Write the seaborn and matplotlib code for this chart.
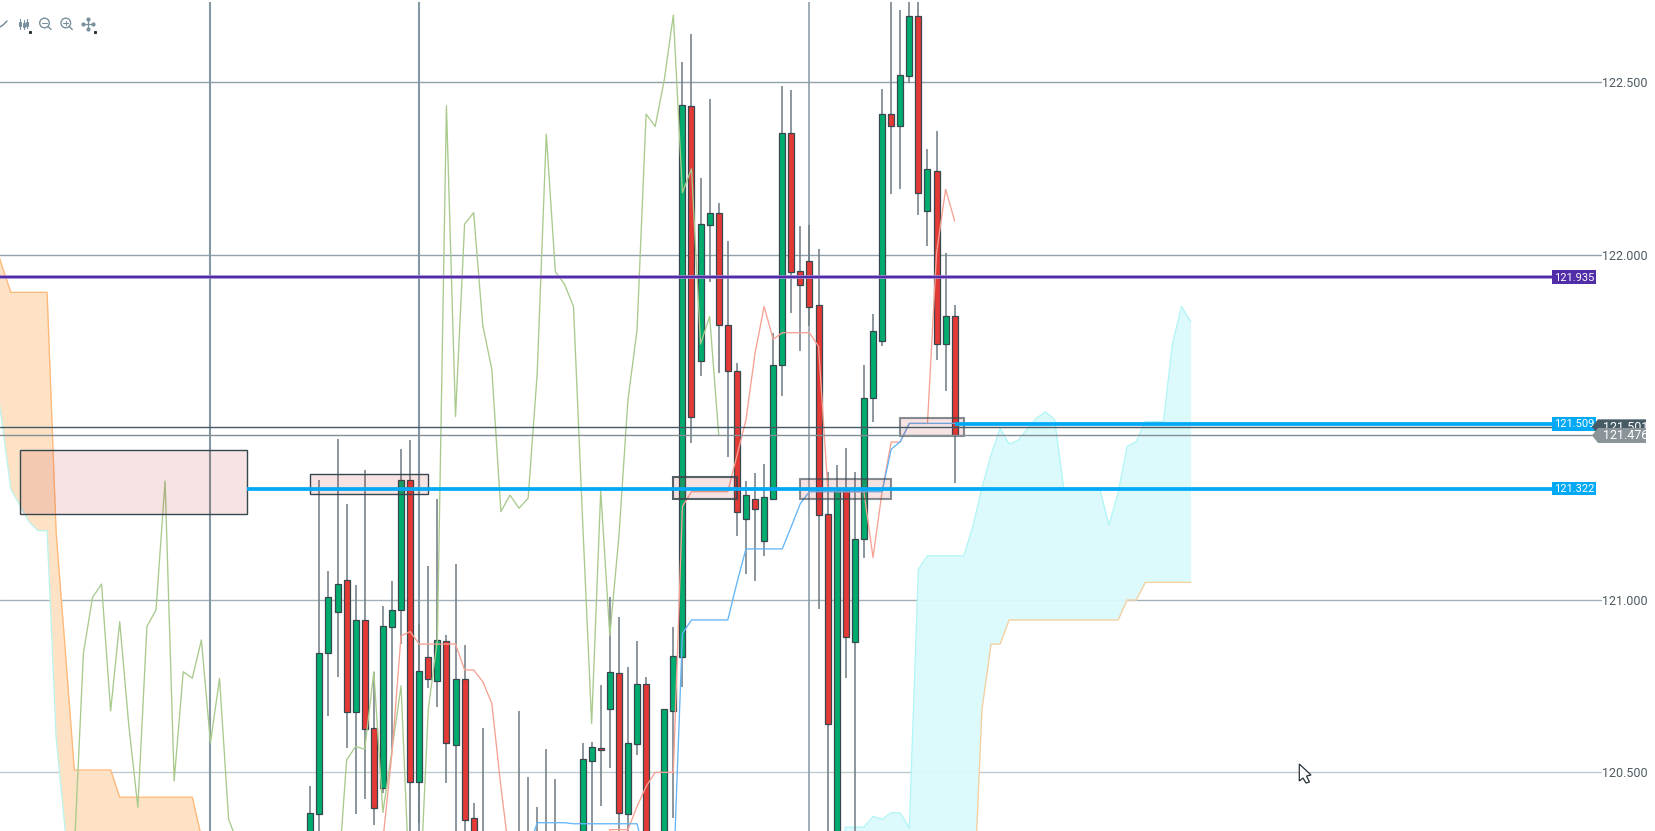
import numpy as np
import pandas as pd
import matplotlib
matplotlib.use("Agg")
import matplotlib.pyplot as plt
import seaborn as sns
from matplotlib.patches import Polygon, Circle, Rectangle
from matplotlib.transforms import blended_transform_factory

nan = float('nan')

# candles, one entry per bar (nan = bar is completely below the visible range)
opens = [120.187,120.378,120.846,120.965,121.056,120.673,120.940,120.627,120.453,120.921,
         120.970,121.346,120.470,120.835,120.765,120.879,120.579,120.770,120.366,120.30,
         nan,nan,nan,120.28,120.28,120.28,120.28,120.28,nan,nan,
         120.2,120.532,120.571,120.682,120.787,120.378,120.580,120.755,nan,120.2,
         120.676,120.835,122.432,121.693,122.087,122.121,121.797,121.662,121.234,121.291,
         121.169,121.293,121.680,122.352,121.952,121.983,121.854,121.249,120.2,121.318,
         120.876,121.175,121.584,121.751,122.408,122.372,122.519,122.693,122.126,122.244,
         121.741,121.821]
highs = [120.460,121.347,121.084,121.465,121.277,121.042,121.376,120.791,120.982,121.055,
         121.437,121.463,120.929,121.098,121.291,120.897,121.103,120.868,120.409,120.627,
         nan,nan,nan,120.677,120.485,120.398,120.566,120.479,nan,nan,
         120.585,120.588,120.752,121.007,120.951,120.804,120.880,120.777,nan,120.682,
         120.920,122.558,122.640,122.222,122.452,122.151,122.039,121.685,121.344,121.368,
         121.393,121.772,122.490,122.478,122.084,122.086,122.016,121.371,121.390,121.439,
         121.371,121.680,121.828,122.480,122.80,122.710,122.80,122.80,122.307,122.359,
         122.004,121.854]
lows = [120.15,120.2,120.663,120.775,120.571,120.378,120.421,120.346,120.440,120.564,
        120.871,120.2,120.351,120.743,120.688,120.467,120.2,120.2,120.15,120.15,
        nan,nan,nan,120.15,120.15,120.15,120.15,120.15,nan,nan,
        120.15,120.2,120.402,120.513,120.2,120.2,120.549,120.15,nan,120.15,
        120.366,120.748,121.453,121.647,121.922,121.658,121.415,121.185,121.074,121.055,
        121.127,121.289,121.591,121.830,121.722,121.794,120.973,120.2,120.15,120.774,
        120.2,121.122,121.516,121.736,122.176,122.192,122.497,122.115,122.026,121.695,
        121.606,121.337]
closes = [120.380,120.844,121.007,121.045,120.673,120.940,120.624,120.395,120.924,120.971,
          121.346,120.470,120.793,120.770,120.882,120.584,120.770,120.361,120.2,120.25,
          nan,nan,nan,120.22,120.22,120.22,120.22,120.22,nan,nan,
          120.537,120.574,120.563,120.790,120.380,120.584,120.755,120.2,nan,120.682,
          120.836,122.434,121.529,122.090,122.121,121.796,121.662,121.255,121.304,121.263,
          121.297,121.680,122.352,121.949,121.912,121.848,121.245,120.639,121.318,120.893,
          121.177,121.584,121.780,122.408,122.372,122.521,122.693,122.178,122.249,121.741,
          121.821,121.477]

# ichimoku lines
chikou = [120.274,120.844,121.006,121.045,120.677,120.936,120.636,120.398,120.922,120.970,
          121.344,120.474,120.791,120.772,120.883,120.585,120.771,120.363,120.294,
          120.1,120.1,120.1,120.1,120.1,120.1,120.1,120.1,120.1,120.1,120.164,
          120.535,120.574,120.566,120.791,120.383,120.564,120.750,120.123,120.103,120.682,
          120.883,122.432,121.531,122.089,122.122,121.796,121.668,121.255,121.303,121.265,
          121.294,121.656,122.350,121.951,121.915,121.850,121.231,120.641,121.316,120.895,
          121.183,121.579,121.782,122.408,122.372,122.507,122.695,122.180,122.249,121.741,
          121.821,121.477]
tenkan = [120.303,120.555,120.895,120.907,120.871,120.871,120.871,120.871,120.871,120.796,
          120.796,120.762,120.699,120.458,120.245,120.1,120.1,120.1,120.1,120.1,
          120.1,120.1,120.1,120.1,120.1,120.333,120.333,120.333,120.400,120.458,
          120.499,120.499,120.499,121.270,121.313,121.313,121.313,121.313,121.313,121.417,
          121.521,121.714,121.850,121.755,121.774,121.774,121.774,121.774,121.734,121.328,
          121.313,121.313,121.313,121.313,121.122,121.313,121.457,121.457,121.511,121.511,
          121.511,122.005,122.190,122.098]
kijun = [120.274,120.353,120.353,120.353,120.353,120.350,120.350,120.350,120.350,120.350,
         120.350,120.350,120.350,120.245,120.2,120.2,120.19,120.902,120.941,120.941,
         120.941,120.941,120.941,121.048,121.147,121.147,121.147,121.147,121.147,121.212,
         121.279,121.313,121.313,121.313,121.313,121.313,121.313,121.313,121.313,121.313,
         121.436,121.458,121.511,121.511,121.511,121.511,121.511,121.511]

# kumo, left part (bars -35 to -12) and right part (bars 58 to 97)
span_b_left = [122.057,121.970,121.891,121.891,121.891,121.891,121.891,121.193,120.854,120.506,
               120.506,120.506,120.506,120.506,120.427,120.427,120.427,120.427,120.427,120.427,
               120.427,120.427,120.427,120.312]
span_a_left = [121.695,121.521,121.320,121.274,121.226,121.200,121.200,120.599,120.329,120.2,
               120.2,120.2,120.2,120.2,120.2,120.2,120.2,120.2,120.2,120.2,
               120.2,120.2,120.2,120.2]
span_a_right = [120.25,120.340,120.340,120.340,120.371,120.363,120.382,120.382,120.337,121.088,
                121.127,121.127,121.127,121.127,121.127,121.212,121.324,121.419,121.497,121.451,
                121.462,121.495,121.526,121.544,121.523,121.323,121.323,121.323,121.323,121.318,
                121.216,121.309,121.444,121.458,121.516,121.516,121.516,121.743,121.850,121.806]
span_b_right = [120.071,120.071,120.071,120.071,120.071,120.071,120.071,120.071,120.071,120.071,
                120.071,120.071,120.071,120.071,120.071,120.071,120.680,120.871,120.871,120.941,
                120.941,120.941,120.941,120.941,120.941,120.941,120.941,120.941,120.941,120.941,
                120.941,120.941,120.999,120.999,121.050,121.050,121.050,121.050,121.050,121.050]

# zones: first bar, last bar, top price, bottom price
zone_start = [-32, 0, 40, 54, 65]
zone_end = [-7, 13, 47, 64, 72]
zone_top = [121.433, 121.363, 121.357, 121.349, 121.526]
zone_bottom = [121.248, 121.306, 121.291, 121.291, 121.475]

price_ticks = [120.5, 121.0, 122.0, 122.5]
price_tick_labels = ['120.500', '121.000', '122.000', '122.500']
session_bars = [-11, 12, 55]

df = pd.DataFrame({'bar': np.arange(72), 'open': opens, 'high': highs, 'low': lows, 'close': closes}).dropna()
up = df[df['close'] >= df['open']]
down = df[df['close'] < df['open']]

W, H = 1656, 831
PX = 9.076  # one bar in pixels
sns.set_theme(style='white')
plt.rcParams['font.family'] = ['Roboto', 'DejaVu Sans']

fig = plt.figure(figsize=(W / 100, H / 100), dpi=100)
ax = fig.add_axes([0, 0, 1, 829 / 831])
xlim = (-310.3 / PX, (W - 310.3) / PX)
ylim = (120.329, 122.733)

side = blended_transform_factory(ax.transAxes, ax.transData)


def fx(px):
    return px / W


# grid
for v, c in zip(price_ticks, ['#bfcbd1', '#a3b0b7', '#8fa1ab', '#8fa1ab']):
    ax.axhline(v, xmax=fx(1600.7), color=c, lw=1.0, zorder=1)
for b, w in zip(session_bars, [1.5, 1.5, 1.1]):
    ax.axvline(b, color='#8497a3', lw=w, zorder=1)

# kumo
left_idx = np.arange(-35, -11)
right_idx = np.arange(58, 98)
ax.fill_between(left_idx, span_a_left, span_b_left, color='#fde2c6', lw=0, zorder=1.5)
ax.fill_between(right_idx, span_b_right, span_a_right, color='#dbfafb', alpha=0.95, lw=0, zorder=1.5)
sns.lineplot(x=left_idx, y=span_b_left, color='#ffb877', linewidth=0.95, ax=ax, zorder=2)
sns.lineplot(x=left_idx, y=span_a_left, color='#bdf2ea', linewidth=0.95, ax=ax, zorder=2)
sns.lineplot(x=right_idx, y=span_a_right, color='#b0f5f7', linewidth=0.95, ax=ax, zorder=2)
sns.lineplot(x=right_idx, y=span_b_right, color='#f5cf9f', linewidth=0.95, ax=ax, zorder=2)

# candles
ax.vlines(df['bar'], df['low'], df['high'], color='#727f86', lw=1.15, zorder=3)
ax.bar(up['bar'], up['close'] - up['open'], bottom=up['open'], width=0.66,
       color='#00ad6e', edgecolor='#37474f', linewidth=0.9, zorder=4)
ax.bar(down['bar'], down['open'] - down['close'], bottom=down['close'], width=0.66,
       color='#e53935', edgecolor='#37474f', linewidth=0.9, zorder=4)

# ichimoku
sns.lineplot(x=np.arange(-26, 46), y=chikou, color='#a9ca8c', linewidth=0.95, ax=ax, zorder=5)
sns.lineplot(x=np.arange(8, 72), y=tenkan, color='#f6a193', linewidth=0.95, ax=ax, zorder=5)
sns.lineplot(x=np.arange(24, 72), y=kijun, color='#64b5f6', linewidth=0.95, ax=ax, zorder=5)

# zones
for s, e, t, b, a in zip(zone_start, zone_end, zone_top, zone_bottom, [1, 1, 0.85, 0.6, 0.6]):
    ax.add_patch(Rectangle((s, b), e - s, t - b, facecolor='#b71c1c', alpha=0.12, lw=0, zorder=6))
    ax.add_patch(Rectangle((s, b), e - s, t - b, fill=False, edgecolor='#37474f', alpha=a,
                           lw=1.0 if a == 1 else 1.5, zorder=6))

# price lines
ax.axhline(121.501, xmax=fx(1592), color='#455a64', lw=1.0, zorder=6)
ax.axhline(121.476, xmax=fx(1592), color='#828e94', lw=1.0, zorder=6)
ax.axhline(121.935, xmax=fx(1552), color='#b39ddb', lw=2.6, zorder=6.5)
ax.axhline(121.935, xmax=fx(1552), color='#512da8', lw=1.7, zorder=6.6)
ax.hlines(121.322, -7, (1552 - 310.3) / PX, color='#03a9f4', lw=2.7, zorder=6.5)
ax.hlines(121.509, 71, (1552 - 310.3) / PX, color='#03a9f4', lw=2.7, zorder=6.5)


def box_label(price, color):
    hh = 6.7 / 344.85
    ax.add_patch(Rectangle((fx(1552), price - hh), 44 / W, 2 * hh, transform=side,
                           color=color, lw=0, zorder=7))
    ax.text(fx(1574), price - 0.001, f'{price:.3f}', transform=side, color='white', fontsize=8,
            ha='center', va='center', zorder=7.1)


def tag_label(price, color, order):
    hh = 7.5 / 344.85
    pts = [(fx(1592), price), (fx(1598), price + hh), (fx(1646), price + hh),
           (fx(1646), price - hh), (fx(1598), price - hh)]
    ax.add_patch(Polygon(pts, closed=True, transform=side, color=color, lw=0, zorder=order))
    ax.text(fx(1603), price - 0.001, f'{price:.3f}', transform=side, color='white', fontsize=9,
            ha='left', va='center', zorder=order + 0.1)


box_label(121.935, '#512da8')
box_label(121.322, '#03a9f4')
box_label(121.509, '#03a9f4')
tag_label(121.501, '#455a64', 8)
tag_label(121.476, '#8a9499', 9)

# price axis sits inside the plot
ax.yaxis.tick_right()
ax.set_yticks(price_ticks)
ax.set_yticklabels(price_tick_labels)
ax.tick_params(axis='y', length=0, pad=-38.6, labelsize=9, labelcolor='#4d5b62')
ax.set_xticks([])
ax.set_xlabel('')
ax.set_ylabel('')
ax.set_xlim(xlim)
ax.set_ylim(ylim)
for s in ax.spines.values():
    s.set_visible(False)

# toolbar icons and mouse pointer, drawn in screen pixels
ov = fig.add_axes([0, 0, 1, 1], facecolor='none')
ov.set_xlim(0, W)
ov.set_ylim(H, 0)
ov.axis('off')
ic = '#78909c'
ov.plot([0, 3, 7], [27, 25, 21], color=ic, lw=1.1)
for x0, t, b in [(20, 19, 29), (24, 20, 29), (27, 19, 28)]:
    ov.plot([x0, x0], [t, b], color=ic, lw=0.8)
    ov.add_patch(Rectangle((x0 - 1, t + 3), 2, 4, fill=False, edgecolor=ic, lw=0.7))
for cx, plus in [(44.5, False), (65.8, True)]:
    ov.add_patch(Circle((cx, 23), 4.8, fill=False, edgecolor=ic, lw=1))
    ov.plot([cx + 3.5, cx + 6.5], [26.5, 29.5], color=ic, lw=1)
    ov.plot([cx - 2.3, cx + 2.3], [23, 23], color=ic, lw=0.8)
    if plus:
        ov.plot([cx, cx], [20.7, 25.3], color=ic, lw=0.8)
ov.plot([83, 93], [24, 24], color=ic, lw=0.9)
ov.plot([88, 88], [19, 29], color=ic, lw=0.9)
ov.plot([83, 93], [24, 24], ls='none', marker='o', ms=2, color=ic)
ov.plot([88, 88], [19, 29], ls='none', marker='o', ms=2, color=ic)
ov.plot([30], [32], marker='s', ms=1.2, color='#263238')
ov.plot([95.5], [32], marker='s', ms=1.2, color='#263238')
cursor = [(1299.3, 764), (1299.3, 781), (1303, 778), (1306, 783), (1309.5, 782), (1306.5, 776), (1311, 775)]
ov.add_patch(Polygon(cursor, closed=True, facecolor='white', edgecolor='#263238', lw=0.9))

fig.savefig('out.png', dpi=100)
